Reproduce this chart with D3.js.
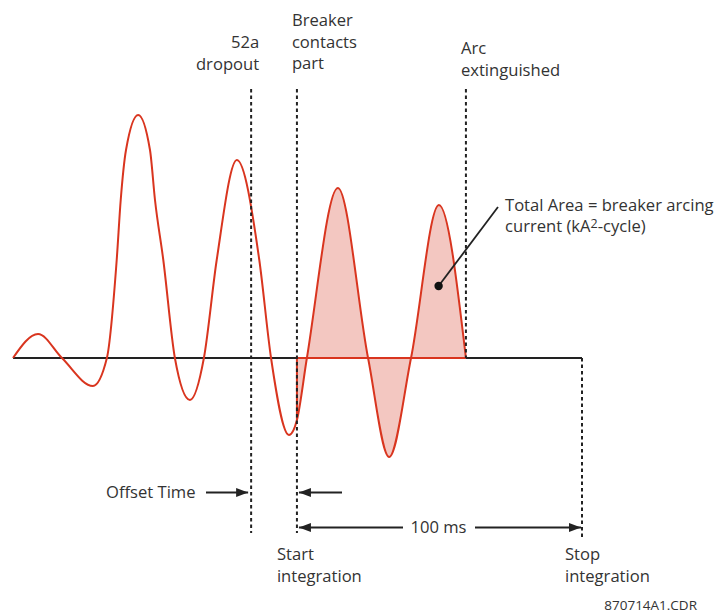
<!DOCTYPE html>
<html>
<head>
<meta charset="utf-8">
<script src="https://cdn.jsdelivr.net/npm/d3@7"></script>
<style>
  html, body { margin: 0; padding: 0; background: #fff; }
  svg { display: block; }
  text { font-family: "Open Sans", "Noto Sans", sans-serif; fill: #333; }
</style>
</head>
<body>
<svg id="chart" width="720" height="615"></svg>
<script>
// ---- data (time in ms, current in kA) ----
const waveTime = [0, 8.8, 17.2, 28.1, 33.0, 36.45, 37.86, 39.72, 44.0, 48.15, 49.91, 52.83, 56.9, 62.2, 67.1, 71.6, 78.7, 86.57, 90.7, 97.0, 99.8, 103.3, 114.2, 124.8, 132.2, 139.9, 149.7, 159.2];
const waveCurrent = [0, 2.4, 0, -2.8, 0, 9.8, 15.8, 20.8, 24.3, 20.8, 15.8, 9.8, 0, -4.2, 0, 9.8, 19.8, 9.8, 0, -7.7, -6.2, 0, 17.0, 0, -9.9, 0, 15.3, 0];

const baselineEnd = 200;
const dropoutTime = 83.7;
const contactsTime = 99.8;   // start integration
const arcEndTime = 159.2;    // arc extinguished
const stopTime = 200;        // stop integration
const windowLabel = "100 ms";

const dropoutLabel = ["52a", "dropout"];
const contactsLabel = ["Breaker", "contacts", "part"];
const arcLabel = ["Arc", "extinguished"];
const startLabel = ["Start", "integration"];
const stopLabel = ["Stop", "integration"];
const offsetLabel = "Offset Time";
const areaLabel1 = "Total Area = breaker arcing";
const areaLabel2 = ["current (kA", "2", "-cycle)"];
const areaPoint = [149.6, 7.2];
const drawingId = "870714A1.CDR";

// ---- drawing ----
const svg = d3.select("#chart");
const x = d3.scaleLinear().domain([0, 200]).range([13, 582]);
const y = d3.scaleLinear().domain([-10, 25]).range([458, 108]);

const RED = "#d9351f", FILL = "#f3c7c1", INK = "#222";
const FS = 16.6;
const pts = waveTime.map((t, i) => [t, waveCurrent[i]]);
const curve = d3.curveMonotoneX;

const defs = svg.append("defs");
defs.append("clipPath").attr("id", "integ")
  .append("rect")
  .attr("x", x(contactsTime)).attr("y", 0)
  .attr("width", x(arcEndTime) - x(contactsTime)).attr("height", 615);

// filled area
const area = d3.area().x(d => x(d[0])).y0(y(0)).y1(d => y(d[1])).curve(curve);
svg.append("path").datum(pts).attr("d", area)
  .attr("fill", FILL).attr("clip-path", "url(#integ)");

// baseline
svg.append("line").attr("x1", x(0)).attr("x2", x(baselineEnd))
  .attr("y1", y(0)).attr("y2", y(0)).attr("stroke", INK).attr("stroke-width", 2);

// red outline of the integration area
const startVal = waveCurrent[waveTime.indexOf(contactsTime)];
svg.append("path")
  .attr("d", `M${x(arcEndTime)},${y(0)}H${x(contactsTime)}V${y(startVal)}`)
  .attr("fill", "none").attr("stroke", RED).attr("stroke-width", 2);

// waveform
const line = d3.line().x(d => x(d[0])).y(d => y(d[1])).curve(curve);
svg.append("path").datum(pts).attr("d", line)
  .attr("fill", "none").attr("stroke", RED).attr("stroke-width", 2)
  .attr("stroke-linejoin", "round");

// dotted markers
function vdot(t, y1, y2) {
  svg.append("line").attr("x1", x(t)).attr("x2", x(t)).attr("y1", y1).attr("y2", y2)
    .attr("stroke", INK).attr("stroke-width", 2).attr("stroke-dasharray", "3.5,3");
}
vdot(dropoutTime, 89, 533);
vdot(contactsTime, 89, 533);
vdot(arcEndTime, 89, y(0));
vdot(stopTime, y(0), 540);

// text helper
function lines(arr, xx, y0, anchor, dy = 21.5) {
  arr.forEach((s, i) => {
    svg.append("text").attr("x", xx).attr("y", y0 + i * dy)
      .attr("text-anchor", anchor).attr("font-size", FS).text(s);
  });
}
lines(dropoutLabel, x(dropoutTime) + 8, 48, "end");
lines(contactsLabel, x(contactsTime) - 5, 26, "start");
lines(arcLabel, x(arcEndTime) - 5, 54, "start");
lines(startLabel, x(contactsTime) - 20, 560, "start");
lines(stopLabel, x(stopTime) - 17, 560, "start");

// area annotation
svg.append("line").attr("x1", x(areaPoint[0])).attr("y1", y(areaPoint[1]))
  .attr("x2", 498).attr("y2", 207).attr("stroke", INK).attr("stroke-width", 1.8);
svg.append("circle").attr("cx", x(areaPoint[0])).attr("cy", y(areaPoint[1])).attr("r", 4.2).attr("fill", "#111");
svg.append("text").attr("x", 505).attr("y", 211).attr("font-size", FS).text(areaLabel1);
const t2 = svg.append("text").attr("x", 505).attr("y", 232).attr("font-size", FS);
t2.append("tspan").text(areaLabel2[0]);
t2.append("tspan").attr("dy", -4).attr("font-size", 12.5).text(areaLabel2[1]);
t2.append("tspan").attr("dy", 4).text(areaLabel2[2]);

// arrows
function arrow(x1, x2, yy) {
  svg.append("line").attr("x1", x1).attr("x2", x2).attr("y1", yy).attr("y2", yy)
    .attr("stroke", INK).attr("stroke-width", 2);
  const dir = Math.sign(x2 - x1);
  svg.append("path")
    .attr("d", `M${x2},${yy}L${x2 - dir * 12},${yy - 4.5}L${x2 - dir * 12},${yy + 4.5}Z`)
    .attr("fill", INK);
}
const offY = 492.5, winY = 527.5;
arrow(206, x(dropoutTime) - 3, offY);
arrow(342, x(contactsTime) + 2, offY);
svg.append("text").attr("x", 106).attr("y", 498).attr("font-size", FS).text(offsetLabel);

const winMid = (x(contactsTime) + x(stopTime)) / 2 - 1;
arrow(403, x(contactsTime) + 2, winY);
arrow(475, x(stopTime) - 1, winY);
svg.append("text").attr("x", winMid).attr("y", 533).attr("font-size", FS)
  .attr("text-anchor", "middle").text(windowLabel);

svg.append("text").attr("x", 697).attr("y", 610).attr("font-size", 13.5)
  .attr("text-anchor", "end").text(drawingId);
</script>
</body>
</html>
